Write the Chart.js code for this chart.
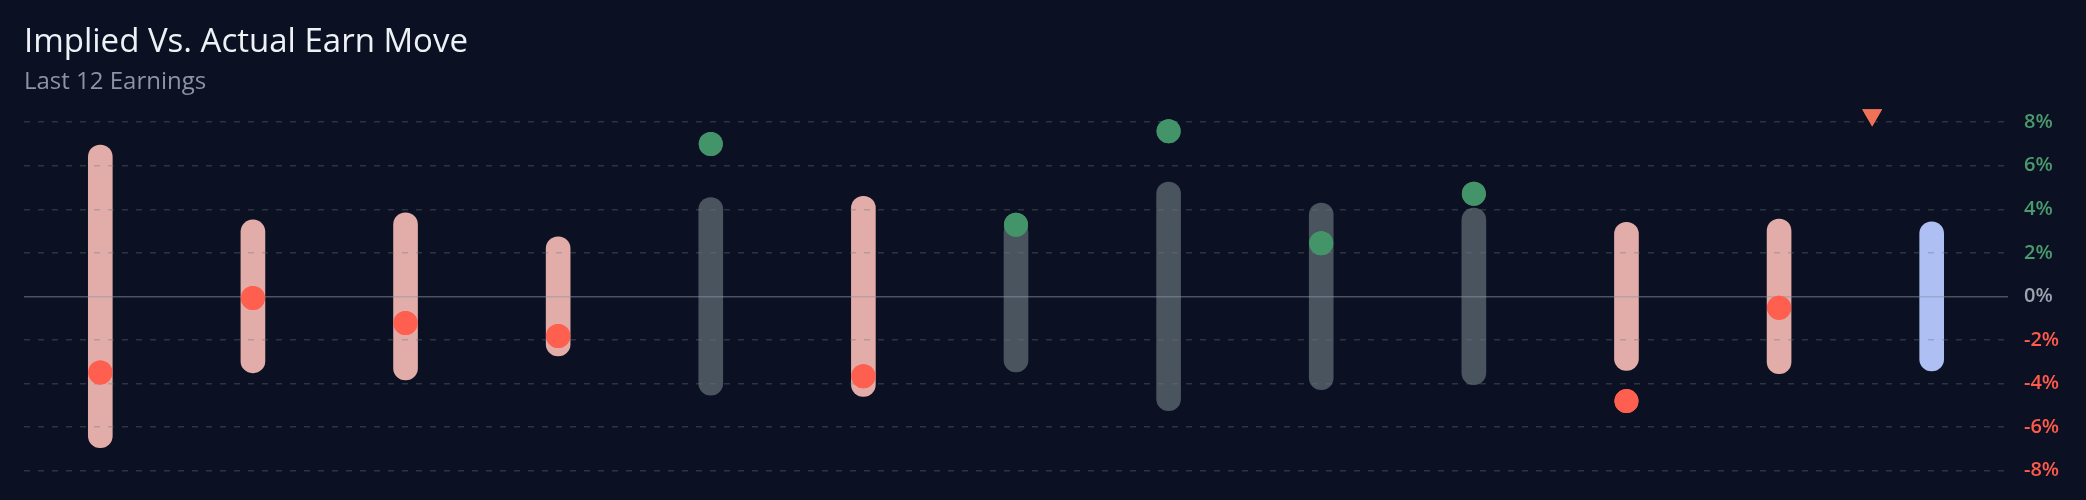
<!DOCTYPE html>
<html>
<head>
<meta charset="utf-8">
<script src="https://cdn.jsdelivr.net/npm/chart.js@4/dist/chart.umd.min.js"></script>
<style>
  html, body { margin: 0; padding: 0; background: #0b1122; }
  #wrap { width: 2086px; height: 500px; }
</style>
</head>
<body>
<div id="wrap"><canvas id="earnChart"></canvas></div>
<script>
  // -------------------------
  // Data (% moves)
  // -------------------------
  const earnIndex = [0, 1, 2, 3, 4, 5, 6, 7, 8, 9, 10, 11, 12];
  const impliedMove = [6.95, 3.51, 3.84, 2.73, 4.54, 4.6, 3.47, 5.25, 4.29, 4.06, 3.4, 3.55, 3.42];
  const actualMove = [-3.5, -0.07, -1.22, -1.82, 7.0, -3.67, 3.29, 7.58, 2.44, 4.71, -4.81, -0.52, null];
  const markerX = [11.61];
  const markerY = [8.33];
  const tickValues = [-8, -6, -4, -2, 0, 2, 4, 6, 8];

  const PINK = "#e2aca9";
  const GREY = "#4a545f";
  const BLUE = "#aebff3";
  const RED = "#ff5f4f";
  const GREEN = "#449469";
  const FONT = "'Open Sans', 'Noto Sans', sans-serif";

  function barColor(i) {
    const a = actualMove[i];
    if (a === null || a === undefined) return BLUE; // upcoming
    return a < 0 ? PINK : GREY;
  }

  const barData = earnIndex.map((x, i) => ({ x: x, y: [-impliedMove[i], impliedMove[i]] }));
  const dotData = [];
  const dotColors = [];
  earnIndex.forEach((x, i) => {
    if (actualMove[i] === null) return;
    dotData.push({ x: x, y: actualMove[i] });
    dotColors.push(actualMove[i] < 0 ? RED : GREEN);
  });
  const markerData = markerX.map((x, i) => ({ x: x, y: markerY[i] }));

  // dots sit above the grid lines, bars below
  const dotsOnTop = {
    id: "dotsOnTop",
    afterDraw(chart) {
      chart.data.datasets.forEach((ds, i) => {
        if (ds.type !== "scatter") return;
        const meta = chart.getDatasetMeta(i);
        if (meta.hidden) return;
        meta.controller.draw();
      });
    },
  };

  new Chart(document.getElementById("earnChart"), {
    data: {
      datasets: [
        {
          type: "bar",
          label: "Implied move",
          data: barData,
          backgroundColor: earnIndex.map(barColor),
          barThickness: 24,
          borderRadius: 12,
          borderSkipped: false,
          order: 2,
        },
        {
          type: "scatter",
          label: "Actual move",
          data: dotData,
          backgroundColor: dotColors,
          borderWidth: 0,
          pointRadius: 12,
          pointHoverRadius: 12,
          order: 1,
        },
        {
          type: "scatter",
          label: "Marker",
          data: markerData,
          pointStyle: "triangle",
          rotation: 180,
          backgroundColor: "#ef7157",
          borderWidth: 0,
          pointRadius: 11.5,
          order: 0,
        },
      ],
    },
    plugins: [dotsOnTop],
    options: {
      responsive: true,
      maintainAspectRatio: false,
      animation: false,
      layout: { padding: { left: 24, right: 0, top: 0, bottom: 0 } },
      plugins: {
        legend: { display: false },
        tooltip: { enabled: false },
        title: {
          display: true,
          text: "Implied Vs. Actual Earn Move",
          align: "start",
          color: "#eef2f7",
          font: { family: FONT, size: 33, weight: "400", lineHeight: 1.2 },
          padding: { top: 23, bottom: 0 },
        },
        subtitle: {
          display: true,
          text: "Last 12 Earnings",
          align: "start",
          color: "#8b94a3",
          font: { family: FONT, size: 24, weight: "400", lineHeight: 1.2 },
          padding: { top: 5, bottom: 4 },
        },
      },
      scales: {
        x: {
          type: "linear",
          display: false,
          offset: false,
          min: -0.5,
          max: 12.5,
          grid: { display: false },
        },
        y: {
          position: "right",
          min: -8.8,
          max: 9,
          afterBuildTicks(scale) {
            scale.ticks = tickValues.map((v) => ({ value: v }));
          },
          afterFit(scale) {
            scale.width = 78;
            scale.paddingTop = 0;
            scale.paddingBottom = 0;
          },
          grid: {
            drawTicks: false,
            z: 1,
            lineWidth: 1.5,
            color(ctx) {
              if (ctx.tick && ctx.tick.value === 0) return "rgba(140,148,165,0.5)";
              return "rgba(107,114,128,0.35)";
            },
          },
          border: {
            display: false,
            dash(ctx) {
              return ctx.tick && ctx.tick.value === 0 ? [] : [6, 8];
            },
          },
          ticks: {
            padding: 16,
            font: { family: FONT, size: 20, weight: "600" },
            color(ctx) {
              const v = ctx.tick ? ctx.tick.value : 0;
              if (v > 0) return "#4a9a6e";
              if (v < 0) return "#ff5a4a";
              return "#9ca3af";
            },
            callback: (v) => v + "%",
          },
        },
      },
    },
  });
</script>
</body>
</html>
